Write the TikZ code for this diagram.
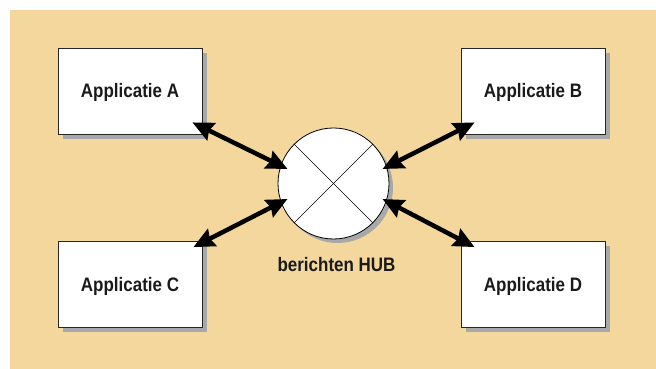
\documentclass[tikz,border=0pt]{standalone}
\usepackage{fontspec}
\setmainfont{Liberation Sans}[FakeStretch=0.87]
\usetikzlibrary{arrows.meta,shadows}
\definecolor{bgbeige}{HTML}{F3D79C}
\definecolor{shadowgray}{HTML}{A8A8A8}
\definecolor{txt}{HTML}{1A1A1A}
\begin{document}
\begin{tikzpicture}[x=1pt,y=1pt,
  appbox/.style={draw=black!85, line width=0.8pt, fill=white, minimum width=144pt, minimum height=86pt,
    inner sep=0pt, text height=14pt, text depth=0pt, font=\bfseries\fontsize{19.5}{20}\selectfont, text=txt,
    drop shadow={shadow xshift=5pt, shadow yshift=-5pt, fill=shadowgray, opacity=1}},
  hubnode/.style={circle, draw=black, line width=0.8pt, fill=white, minimum size=111pt, inner sep=0pt,
    drop shadow={shadow xshift=4pt, shadow yshift=-4pt, fill=shadowgray, opacity=1}},
  tipshape/.style={},
  biarrow/.style={line width=4.5pt, {Stealth[length=21pt,width=19pt,inset=2.5pt]}-{Stealth[length=21pt,width=19pt,inset=2.5pt]}},
  lbl/.style={font=\bfseries\fontsize{19.5}{20}\selectfont, text=txt, inner sep=0pt}
]
\useasboundingbox (0,0) rectangle (656,369);
\fill[white] (0,0) rectangle (656,369);
\fill[bgbeige] (10,0) rectangle (656,359);

\node[appbox] (A) at (130,278) {Applicatie A};
\node[appbox] (B) at (533,278) {Applicatie B};
\node[appbox] (C) at (130,84.5) {Applicatie C};
\node[appbox] (D) at (533,84.5) {Applicatie D};

\node[hubnode] (hub) at (333.5,185.5) {};
\draw[line width=0.6pt] (hub.north west) -- (hub.south east);
\draw[line width=0.6pt] (hub.north east) -- (hub.south west);
\node[lbl] (hublbl) at (336.5,104) {berichten HUB};

\coordinate (hA) at ([shift={(-46,14.5)}]hub.center);
\coordinate (hB) at ([shift={(49,14.5)}]hub.center);
\coordinate (hC) at ([shift={(-46,-15.5)}]hub.center);
\coordinate (hD) at ([shift={(49,-15.5)}]hub.center);
\coordinate (eA) at ([shift={(-10,12)}]A.south east);
\coordinate (eB) at ([shift={(14,12)}]B.south west);
\coordinate (eC) at ([shift={(-9,-6)}]C.north east);
\coordinate (eD) at ([shift={(14,-6)}]D.north west);

\draw[biarrow] (eA) -- (hA);
\draw[biarrow] (eB) -- (hB);
\draw[biarrow] (eC) -- (hC);
\draw[biarrow] (eD) -- (hD);
\end{tikzpicture}
\end{document}
